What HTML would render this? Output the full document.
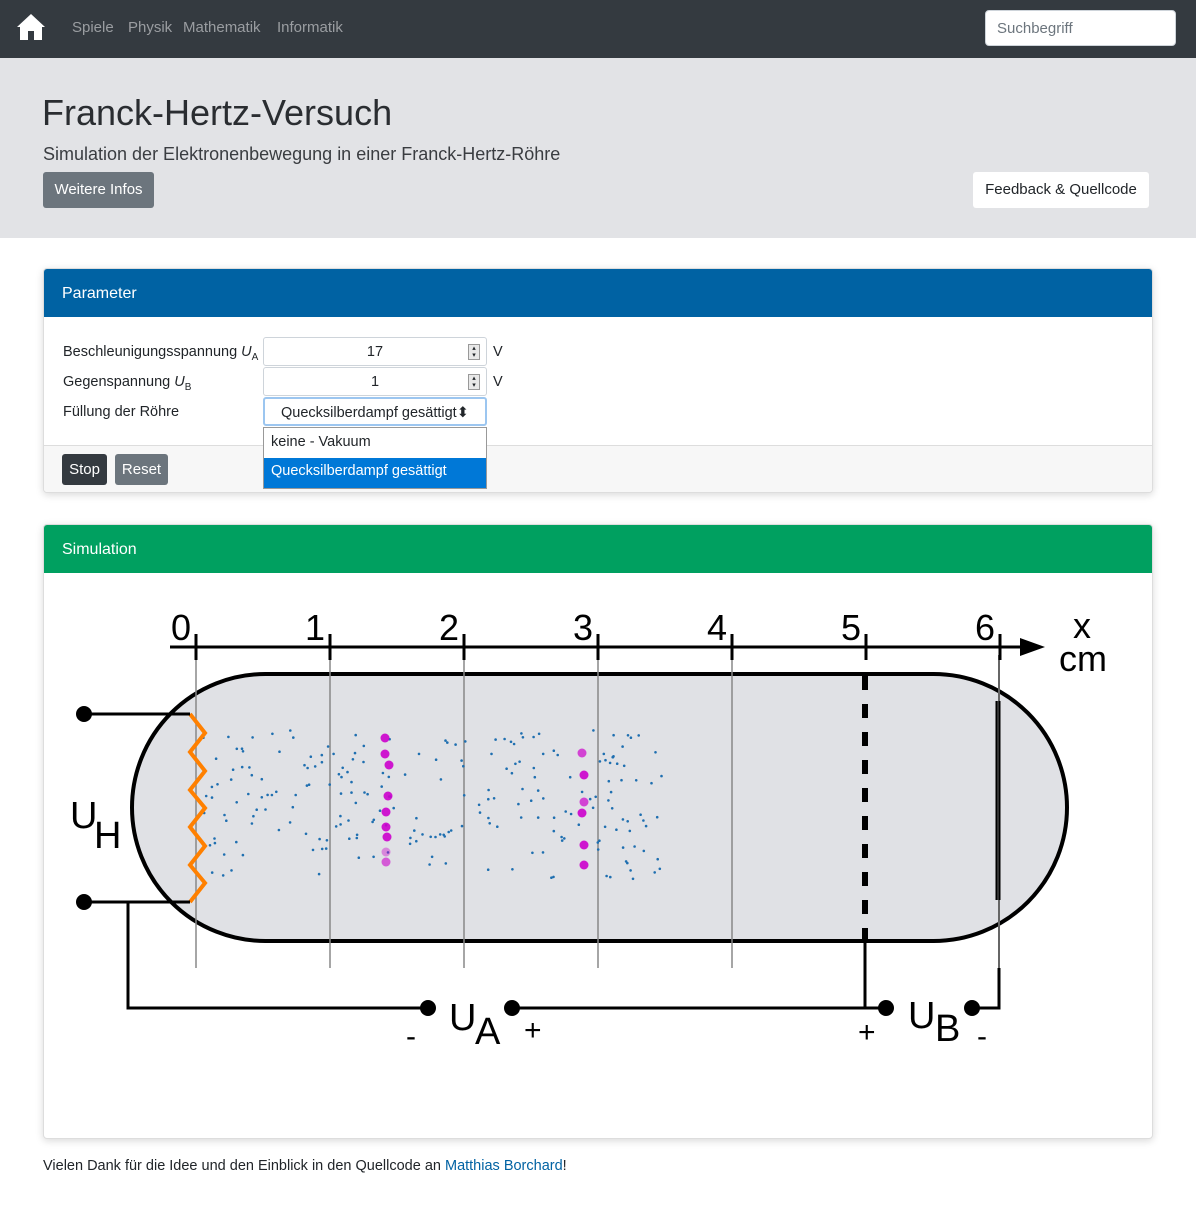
<!DOCTYPE html>
<html><head><meta charset="utf-8"><style>
*{box-sizing:border-box}
body{margin:0;width:1196px;height:1216px;font-family:"Liberation Sans",sans-serif;background:#fff;color:#212529;position:relative;overflow:hidden}
.nav{position:absolute;left:0;top:0;width:1196px;height:58px;background:#343a40}
.nav a{position:absolute;top:19px;color:#9a9da1;font-size:15px;text-decoration:none}
.search{position:absolute;left:985px;top:10px;width:191px;height:36px;background:#fff;border:1px solid #ced4da;border-radius:4px;color:#6c757d;font-size:15px;padding:9px 11px}
.jumbo{position:absolute;left:0;top:58px;width:1196px;height:180px;background:#e2e3e6}
.btn{position:absolute;font-size:15px;border-radius:3px;text-align:center}
.card{position:absolute;left:43px;width:1110px;border:1px solid #ddd;border-radius:4px;box-shadow:0 2px 8px rgba(0,0,0,.15);overflow:hidden;background:#fff}
.ch{height:48px;color:#fff;font-size:16px;padding:16px 18px}
.lbl{position:absolute;left:19px;font-size:14.5px}
.inp{position:absolute;left:219px;width:224px;height:29px;border:1px solid #ced4da;border-radius:3px;font-size:14.5px;text-align:center;padding-top:6px;background:#fff}
.spin{position:absolute;right:6px;top:6px;width:12px;height:16px;border:1px solid #999;background:#e8e8e8;font-size:7px;line-height:7px}
.v{position:absolute;left:449px;font-size:14.5px}
</style></head><body>
<div class="nav">
<svg style="position:absolute;left:16px;top:12px" width="30" height="30" viewBox="0 0 30 30"><path d="M15 2 L1 15 L4 15 L4 28 L12 28 L12 19 L18 19 L18 28 L26 28 L26 15 L29 15 Z" fill="#fff"/></svg>
<a style="left:72px">Spiele</a><a style="left:128px">Physik</a><a style="left:183px">Mathematik</a><a style="left:277px">Informatik</a>
<div class="search">Suchbegriff</div>
</div>
<div class="jumbo">
<div style="position:absolute;left:42px;top:34px;font-size:36px;color:#2a2d31">Franck-Hertz-Versuch</div>
<div style="position:absolute;left:43px;top:86px;font-size:18px;color:#3a3d41">Simulation der Elektronenbewegung in einer Franck-Hertz-Röhre</div>
<div class="btn" style="left:43px;top:114px;width:111px;height:36px;background:#6c757d;color:#fff;padding-top:9px">Weitere Infos</div>
<div class="btn" style="left:973px;top:114px;width:176px;height:36px;background:#fff;color:#212529;padding-top:9px">Feedback &amp; Quellcode</div>
</div>

<div class="card" style="top:268px;height:225px">
<div class="ch" style="background:#0062a3">Parameter</div>
<div class="lbl" style="top:75px">Beschleunigungsspannung <i>U</i><sub style="font-size:10px">A</sub></div>
<div class="lbl" style="top:105px">Gegenspannung <i>U</i><sub style="font-size:10px">B</sub></div>
<div class="lbl" style="top:135px">Füllung der Röhre</div>
<div class="inp" style="top:68px">17<div class="spin">▴<br>▾</div></div>
<div class="inp" style="top:98px">1<div class="spin">▴<br>▾</div></div>
<div class="v" style="top:75px">V</div><div class="v" style="top:105px">V</div>
<div style="position:absolute;left:0;top:176px;width:1110px;height:49px;background:#f7f7f7;border-top:1px solid #ddd"></div>
<div class="btn" style="left:18px;top:185px;width:45px;height:31px;background:#343a40;color:#fff;padding-top:7px">Stop</div>
<div class="btn" style="left:71px;top:185px;width:53px;height:31px;background:#6c757d;color:#fff;padding-top:7px">Reset</div>
<div class="inp" style="top:128px;border:2px solid #9cc6f0;padding-left:16px;text-align:left">Quecksilberdampf gesättigt⬍</div>
<div style="position:absolute;left:219px;top:158px;width:224px;height:62px;border:1px solid #999;background:#fff">
<div style="height:30px;padding:6px 7px;font-size:14.5px">keine - Vakuum</div>
<div style="height:30px;padding:5px 7px;font-size:14.5px;background:#0078d7;color:#fff">Quecksilberdampf gesättigt</div>
</div>
</div>

<div class="card" style="top:524px;height:615px">
<div class="ch" style="background:#00a060">Simulation</div>
</div>

<svg id="d" style="position:absolute;left:0;top:0" width="1196" height="1216" font-family="Liberation Sans, sans-serif">
<rect x="132" y="674" width="935" height="267" rx="133.5" fill="#e0e1e5" stroke="#000" stroke-width="4"/>
<g stroke="#888" stroke-width="1.5">
<line x1="196" y1="655" x2="196" y2="968"/><line x1="330" y1="655" x2="330" y2="968"/><line x1="464" y1="655" x2="464" y2="968"/><line x1="598" y1="655" x2="598" y2="968"/><line x1="732" y1="655" x2="732" y2="968"/>
</g>
<line x1="999" y1="655" x2="999" y2="970" stroke="#666" stroke-width="2"/>
<g id="dots"></g>
<line x1="170" y1="647" x2="1025" y2="647" stroke="#000" stroke-width="3"/>
<path d="M1020 638 L1045 647 L1020 656 Z" fill="#000"/>
<g stroke="#000" stroke-width="3">
<line x1="196" y1="634" x2="196" y2="660"/><line x1="330" y1="634" x2="330" y2="660"/><line x1="464" y1="634" x2="464" y2="660"/><line x1="598" y1="634" x2="598" y2="660"/><line x1="732" y1="634" x2="732" y2="660"/><line x1="866" y1="634" x2="866" y2="660"/><line x1="1000" y1="634" x2="1000" y2="660"/>
</g>
<g font-size="36" text-anchor="middle">
<text x="181" y="640">0</text><text x="315" y="640">1</text><text x="449" y="640">2</text><text x="583" y="640">3</text><text x="717" y="640">4</text><text x="851" y="640">5</text><text x="985" y="640">6</text>
<text x="1082" y="638">x</text><text x="1083" y="671">cm</text>
</g>
<line x1="865" y1="676" x2="865" y2="940" stroke="#000" stroke-width="6" stroke-dasharray="14 14"/>
<line x1="998" y1="701" x2="998" y2="900" stroke="#000" stroke-width="5"/>
<line x1="998" y1="701" x2="998" y2="900" stroke="#666" stroke-width="1"/>
<polyline points="190,714 205,733 190,752 205,771 190,790 205,808 190,827 205,846 190,865 205,883 190,902" fill="none" stroke="#ff8000" stroke-width="4"/>
<g stroke="#000" stroke-width="3" fill="none">
<line x1="84" y1="714" x2="190" y2="714"/><line x1="84" y1="902" x2="190" y2="902"/>
<polyline points="128,902 128,1008 428,1008"/>
<line x1="512" y1="1008" x2="886" y2="1008"/>
<line x1="865" y1="940" x2="865" y2="1008"/>
<polyline points="972,1008 999,1008 999,968"/>
</g>
<g fill="#000"><circle cx="84" cy="714" r="8"/><circle cx="84" cy="902" r="8"/><circle cx="428" cy="1008" r="8"/><circle cx="512" cy="1008" r="8"/><circle cx="886" cy="1008" r="8"/><circle cx="972" cy="1008" r="8"/></g>
<g font-size="38"><text x="70" y="828">U</text><text x="94" y="848">H</text>
<text x="449" y="1030">U</text><text x="475" y="1044">A</text>
<text x="908" y="1028">U</text><text x="935" y="1041">B</text></g>
<g font-size="30"><text x="406" y="1046">-</text><text x="524" y="1040">+</text><text x="858" y="1042">+</text><text x="977" y="1046">-</text></g>
</svg>
<div style="position:absolute;left:43px;top:1158px;font-size:14.5px">Vielen Dank für die Idee und den Einblick in den Quellcode an <span style="color:#0062a3">Matthias Borchard</span>!</div>
<script>
var s=12345;function r(){s=(s*16807)%2147483647;return s/2147483647;}
var g=document.getElementById('dots'),h='';
for(var i=0;i<230;i++){var x=198+r()*465,y=730+r()*150;h+='<circle cx="'+x.toFixed(1)+'" cy="'+y.toFixed(1)+'" r="1.3" fill="#1f6fb0"/>';}
var m=[[385,738],[385,754],[389,765],[388,796],[386,812],[386,827],[387,837],[386,852,.4],[386,862,.6],[582,753,.7],[584,775],[584,802,.7],[582,813],[584,845],[584,865]];
m.forEach(function(p){h+='<circle cx="'+p[0]+'" cy="'+p[1]+'" r="4.5" fill="#cc00cc" opacity="'+(p[2]||0.9)+'"/>';});
g.innerHTML=h;
</script>
</body></html>
